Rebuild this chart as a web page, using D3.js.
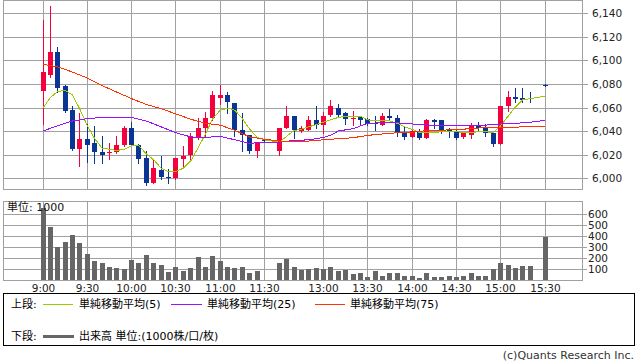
<!DOCTYPE html>
<html>
<head>
<meta charset="utf-8">
<script src="https://cdn.jsdelivr.net/npm/d3@7"></script>
<style>
  body { margin: 0; background: #fff; }
  svg { display: block; font-family: "DejaVu Sans", "Noto Sans CJK JP", sans-serif; }
</style>
</head>
<body>
<div id="chart"></div>
<script>
// 5-minute bars, one trading day
const times = [
  '9:00','9:05','9:10','9:15','9:20','9:25','9:30','9:35','9:40','9:45','9:50','9:55',
  '10:00','10:05','10:10','10:15','10:20','10:25','10:30','10:35','10:40','10:45','10:50','10:55',
  '11:00','11:05','11:10','11:15','11:20','11:25','11:30',
  '12:30','12:35','12:40','12:45','12:50','12:55',
  '13:00','13:05','13:10','13:15','13:20','13:25','13:30','13:35','13:40','13:45','13:50','13:55',
  '14:00','14:05','14:10','14:15','14:20','14:25','14:30','14:35','14:40','14:45','14:50','14:55',
  '15:00','15:05','15:10','15:15','15:20','15:30'
];
const opens = [
  6074,6088,6107,6078,6058,6025,6033,6030,6022,6021,6022,6028,
  6043,6028,6017,5996,6007,6001,6000,6016,6020,6034,6043,6051,
  6068,6071,6064,6041,6037,6023,6033,
  6023,6043,6053,6040,6041,6049,
  6045,6054,6060,6055,6050,6052,6050,6047,6045,6053,6051,6039,
  6035,6040,6034,6049,6049,6041,6039,6035,6037,6045,6043,6038,
  6029,6061,6069,6068,6068,6079
];
const highs = [
  6134,6146,6111,6079,6061,6055,6046,6044,6036,6030,6036,6044,
  6048,6029,6023,6016,6019,6008,6017,6027,6038,6051,6056,6074,
  6079,6073,6064,6055,6037,6031,6033,
  6043,6061,6053,6044,6053,6061,
  6056,6066,6063,6056,6057,6053,6051,6053,6055,6059,6054,6044,
  6042,6042,6050,6050,6049,6043,6041,6039,6047,6048,6046,6038,
  6061,6074,6077,6077,6073,6080
];
const lows = [
  6046,6086,6073,6056,6024,6010,6014,6013,6013,6016,6021,6027,
  6028,6013,5994,5996,5999,5996,5999,6009,6016,6033,6036,6049,
  6063,6055,6036,6023,6021,6018,6032,
  6020,6043,6034,6039,6041,6043,
  6038,6053,6053,6046,6045,6045,6045,6041,6045,6050,6036,6033,
  6035,6033,6034,6043,6038,6035,6033,6034,6034,6041,6036,6027,
  6029,6057,6065,6065,6065,6078
];
const closes = [
  6090,6107,6077,6057,6025,6033,6028,6022,6020,6022,6028,6043,
  6028,6016,5996,6009,6001,6000,6017,6019,6035,6043,6051,6071,
  6071,6065,6041,6037,6023,6031,6032,
  6043,6053,6041,6043,6049,6045,
  6053,6061,6054,6050,6051,6049,6046,6046,6053,6051,6039,6035,
  6040,6034,6049,6048,6040,6039,6034,6038,6045,6043,6038,6029,
  6061,6069,6067,6066,6067,6079
];
// volume, unit 1000
const volumes = [
  655,485,300,350,415,342,240,180,160,125,115,103,
  188,158,230,158,140,76,124,88,115,212,124,220,
  180,124,115,124,70,88,5,
  160,197,124,97,103,112,
  109,127,82,91,55,64,36,82,45,64,64,45,
  45,27,64,36,36,45,36,45,64,45,45,100,
  155,145,118,136,136,394
];

// moving averages
const ma5 = [
  6060,6069,6074,6075,6071,6059,6045,6034,6026,6025,6024,6025,
  6028,6028,6021,6016,6009,6006,6006,6009,6015,6026,6038,6051,
  6058,6060,6058,6051,6042,6035,6033,
  6031,6036,6041,6042,6044,6046,
  6048,6050,6052,6053,6053,6053,6050,6049,6049,6049,6047,6044,
  6042,6039,6039,6039,6040,6040,6040,6039,6039,6040,6040,6039,
  6045,6053,6061,6067,6068,6070
];
const ma25Times = ['9:00','9:10','9:20','9:30','9:40','9:50','10:00','10:10','10:20','10:30','10:40','10:50',
  '11:00','11:10','11:20','11:30','12:30','12:40','12:50','13:00','13:05','13:10','13:20','13:30','13:40',
  '13:50','14:00','14:10','14:20','14:30','14:40','14:50','15:00','15:10','15:20','15:30'];
const ma25 = [6040.5,6045,6049,6051,6052,6052,6052,6049,6044,6039,6035.5,6035,
  6036,6033,6030,6031,6031,6032.5,6033,6035,6037,6040.5,6042.5,6047,6047.5,
  6047.5,6046.5,6045.5,6045.5,6045.5,6045.5,6045.5,6046.5,6047,6048,6049.5];
const ma75Times = ['9:00','9:10','9:20','9:30','9:40','9:50','10:00','10:10','10:20','10:30','10:40','10:50',
  '11:00','11:10','11:20','11:30','12:30','12:40','12:50','13:00','13:10','13:20','13:30','13:40','13:50',
  '14:00','14:10','14:20','14:30','14:40','14:50','15:00','15:10','15:20','15:30'];
const ma75 = [6097,6095,6090.5,6085.5,6079,6073.5,6068,6063,6059.5,6055,6050.5,6047,
  6045.5,6041,6035.5,6033.5,6032,6032,6032,6033,6034,6034.8,6036.8,6038,6039,
  6039.5,6040.8,6041.2,6041.7,6042.5,6043.5,6043.7,6043.8,6044.2,6044.3];

const timeLabels = ['9:00','9:30','10:00','10:30','11:00','11:30','13:00','13:30','14:00','14:30','15:00','15:30'];
const priceTicks = [6000,6020,6040,6060,6080,6100,6120,6140];
const volTicks = [100,200,300,400,500,600];

const upColor = '#f5003d', downColor = '#0a3595';
const gridColor = '#a0a0a0';

const width = 638, height = 362;
const left = 3.5, right = 582.5;

// session slot index: lunch break squeezed to two slots
const slotOf = t => {
  const [h, m] = t.split(':').map(Number);
  const mins = (h - 9) * 60 + m;
  return mins >= 210 ? mins / 5 - 10 : mins / 5;
};

const x = d3.scaleLinear().domain([0, 68]).range([42.5, 544.5]);
const px = t => Math.round(x(slotOf(t)));
const yP = d3.scaleLinear().domain([5990, 6150]).range([190, 1.5]);
const yV = d3.scaleLinear().domain([0, 718]).range([280.5, 201.5]);
const snap = v => Math.round(v) + 0.5;

const svg = d3.select('#chart').append('svg')
  .attr('width', width).attr('height', height)
  .attr('shape-rendering', 'crispEdges');

// ---------- upper panel ----------
const up = svg.append('g');
up.selectAll('line.h').data(priceTicks).join('line')
  .attr('x1', left).attr('x2', right + 5)
  .attr('y1', d => snap(yP(d))).attr('y2', d => snap(yP(d)))
  .attr('stroke', gridColor);
up.selectAll('line.v').data(timeLabels).join('line')
  .attr('x1', d => px(d) + 0.5).attr('x2', d => px(d) + 0.5)
  .attr('y1', 0.5).attr('y2', 189.5)
  .attr('stroke', gridColor);
up.append('rect').attr('x', left).attr('y', 0.5).attr('width', right - left).attr('height', 189)
  .attr('fill', 'none').attr('stroke', gridColor);

up.selectAll('text.p').data(priceTicks).join('text')
  .attr('x', 592).attr('y', d => yP(d) + 4)
  .attr('font-size', 10.5).attr('fill', '#222')
  .text(d => d3.format(',')(d));

const bars = times.map((t, i) => ({t, o: opens[i], h: highs[i], l: lows[i], c: closes[i], v: volumes[i]}));

const cg = up.append('g');
cg.selectAll('line.w').data(bars).join('line')
  .attr('x1', d => px(d.t) + 0.5).attr('x2', d => px(d.t) + 0.5)
  .attr('y1', d => Math.round(yP(d.h))).attr('y2', d => Math.round(yP(d.l)) + 1)
  .attr('stroke', d => d.c > d.o ? upColor : downColor);
cg.selectAll('rect').data(bars).join('rect')
  .attr('x', d => px(d.t) - 2).attr('width', 5)
  .attr('y', d => Math.round(yP(Math.max(d.o, d.c))))
  .attr('height', d => Math.max(1, Math.round(yP(Math.min(d.o, d.c))) - Math.round(yP(Math.max(d.o, d.c)))))
  .attr('fill', d => d.c > d.o ? upColor : downColor);

const line = d3.line().x(d => x(slotOf(d.t)) + 0.5).y(d => yP(d.v) + 0.5);
const maSeries = [
  {pts: times.map((t, i) => ({t, v: ma5[i]})), color: '#99cc00'},
  {pts: ma25Times.map((t, i) => ({t, v: ma25[i]})), color: '#9a11ff'},
  {pts: ma75Times.map((t, i) => ({t, v: ma75[i]})), color: '#ff3300'}
];
up.selectAll('path.ma').data(maSeries).join('path')
  .attr('d', d => line(d.pts))
  .attr('fill', 'none').attr('stroke', d => d.color).attr('stroke-width', 1);

// ---------- lower panel ----------
const lo = svg.append('g');
lo.selectAll('line.h').data(volTicks).join('line')
  .attr('x1', left).attr('x2', right + 4)
  .attr('y1', d => snap(yV(d))).attr('y2', d => snap(yV(d)))
  .attr('stroke', gridColor);
lo.selectAll('line.v').data(timeLabels).join('line')
  .attr('x1', d => px(d) + 0.5).attr('x2', d => px(d) + 0.5)
  .attr('y1', 201.5).attr('y2', 280.5)
  .attr('stroke', gridColor);
lo.append('rect').attr('x', left).attr('y', 201.5).attr('width', right - left).attr('height', 79)
  .attr('fill', 'none').attr('stroke', gridColor);

lo.selectAll('rect.vol').data(bars).join('rect')
  .attr('x', d => px(d.t) - 2).attr('width', 5)
  .attr('y', d => Math.round(yV(d.v)))
  .attr('height', d => 280 - Math.round(yV(d.v)))
  .attr('fill', '#666');

lo.selectAll('text.v').data(volTicks).join('text')
  .attr('x', 588).attr('y', d => yV(d) + 4)
  .attr('font-size', 10.5).attr('fill', '#222')
  .text(d => d);

lo.append('text').attr('x', 7).attr('y', 211).attr('font-size', 11).attr('fill', '#111')
  .text('単位: 1000');

svg.selectAll('text.t').data(timeLabels).join('text')
  .attr('x', d => px(d) + 0.5).attr('y', 292)
  .attr('text-anchor', 'middle').attr('font-size', 10.5).attr('fill', '#222')
  .text(d => d);

// ---------- legend ----------
const lg = svg.append('g');
lg.append('rect').attr('x', 3.5).attr('y', 293.5).attr('width', 631).attr('height', 52)
  .attr('fill', 'none').attr('stroke', '#000');
lg.append('text').attr('x', 11).attr('y', 308).attr('font-size', 11).text('上段:');
const legendItems = [
  {x1: 43, x2: 73, tx: 79, color: '#99cc00', label: '単純移動平均(5)'},
  {x1: 171, x2: 202, tx: 207, color: '#9a11ff', label: '単純移動平均(25)'},
  {x1: 315, x2: 345, tx: 350, color: '#ff3300', label: '単純移動平均(75)'}
];
legendItems.forEach(d => {
  lg.append('line').attr('x1', d.x1).attr('x2', d.x2).attr('y1', 304.5).attr('y2', 304.5)
    .attr('stroke', d.color);
  lg.append('text').attr('x', d.tx).attr('y', 308).attr('font-size', 11).text(d.label);
});
lg.append('text').attr('x', 11).attr('y', 340).attr('font-size', 11).text('下段:');
lg.append('line').attr('x1', 43).attr('x2', 74).attr('y1', 336).attr('y2', 336)
  .attr('stroke', '#666').attr('stroke-width', 3);
lg.append('text').attr('x', 79).attr('y', 340).attr('font-size', 11).text('出来高 単位:(1000株/口/枚)');

svg.append('text').attr('x', 634).attr('y', 358.5).attr('text-anchor', 'end')
  .attr('font-size', 11).attr('fill', '#333').text('(c)Quants Research Inc.');
</script>
</body>
</html>
